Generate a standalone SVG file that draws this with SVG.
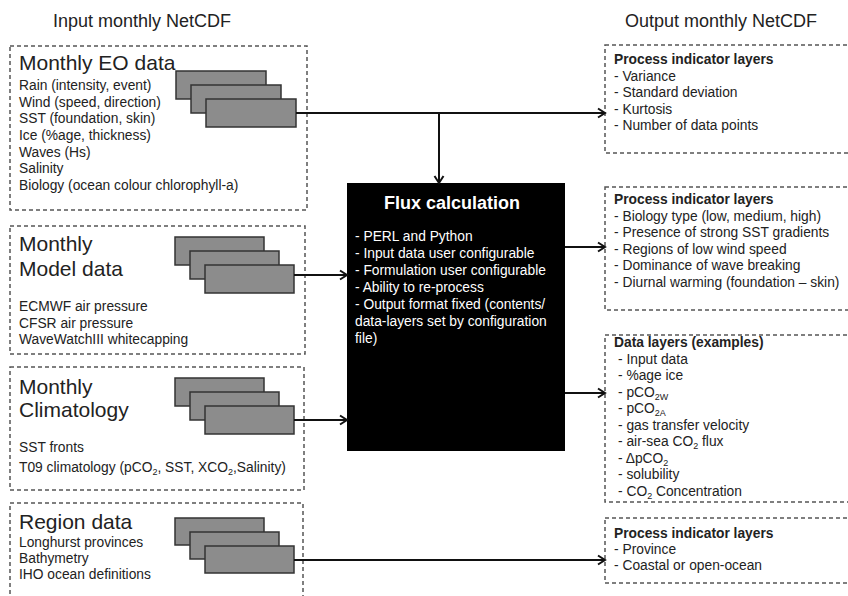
<svg xmlns="http://www.w3.org/2000/svg" width="848" height="596" viewBox="0 0 848 596">
<defs>
<style>
.t{font-family:"Liberation Sans",Arial,sans-serif;fill:#222}
.h{font-size:18px}
.big{font-size:21px}
.s{font-size:13.8px}
.b{font-weight:bold}
.dash{fill:none;stroke:#555;stroke-width:1.5;stroke-dasharray:4 3}
.card{fill:#8c8c8c;stroke:#333;stroke-width:1.5}
.con{fill:none;stroke:#111;stroke-width:2}
.w{fill:#fff}
</style>
<marker id="arr" markerUnits="userSpaceOnUse" markerWidth="12" markerHeight="12" refX="9" refY="6" orient="auto">
<path d="M2,1.5 L9,6 L2,10.5" fill="none" stroke="#111" stroke-width="2"/>
</marker>
</defs>
<rect width="848" height="596" fill="#fff"/>

<text class="t h" x="142" y="27" text-anchor="middle">Input monthly NetCDF</text>
<text class="t h" x="721" y="27" text-anchor="middle">Output monthly NetCDF</text>

<g id="eo">
<rect class="dash" x="10" y="46" width="297" height="164"/>
<text class="t big" x="19" y="70">Monthly EO data</text>
<text class="t s" x="19" y="90">Rain (intensity, event)</text>
<text class="t s" x="19" y="106.7">Wind (speed, direction)</text>
<text class="t s" x="19" y="123.3">SST (foundation, skin)</text>
<text class="t s" x="19" y="140">Ice (%age, thickness)</text>
<text class="t s" x="19" y="156.7">Waves (Hs)</text>
<text class="t s" x="19" y="173.3">Salinity</text>
<text class="t s" x="19" y="190">Biology (ocean colour chlorophyll-a)</text>
<rect class="card" x="176" y="71" width="90" height="28"/>
<rect class="card" x="191" y="85" width="90" height="28"/>
<rect class="card" x="206" y="99" width="90" height="28"/>
</g>

<g id="model">
<rect class="dash" x="10" y="226" width="295" height="128"/>
<text class="t big" x="19" y="251">Monthly</text>
<text class="t big" x="19" y="275.5">Model data</text>
<text class="t s" x="19" y="311">ECMWF air pressure</text>
<text class="t s" x="19" y="327.5">CFSR air pressure</text>
<text class="t s" x="19" y="344">WaveWatchIII whitecapping</text>
<rect class="card" x="175" y="237" width="89" height="28"/>
<rect class="card" x="190" y="251" width="89" height="28"/>
<rect class="card" x="205" y="265" width="89" height="28"/>
</g>

<g id="climatology">
<rect class="dash" x="10" y="367" width="294" height="123"/>
<text class="t big" x="19" y="394">Monthly</text>
<text class="t big" x="19" y="417">Climatology</text>
<text class="t s" x="19" y="452">SST fronts</text>
<text class="t s" x="19" y="472">T09 climatology (pCO<tspan font-size="9" dy="3">2</tspan><tspan dy="-3">, SST, XCO</tspan><tspan font-size="9" dy="3">2</tspan><tspan dy="-3">,Salinity)</tspan></text>
<rect class="card" x="175" y="378" width="89" height="28"/>
<rect class="card" x="190" y="392" width="89" height="28"/>
<rect class="card" x="205" y="406" width="89" height="28"/>
</g>

<g id="region">
<rect class="dash" x="10" y="503" width="293" height="120"/>
<text class="t big" x="19" y="529">Region data</text>
<text class="t s" x="19" y="547">Longhurst provinces</text>
<text class="t s" x="19" y="563">Bathymetry</text>
<text class="t s" x="19" y="579">IHO ocean definitions</text>
<rect class="card" x="175" y="518" width="89" height="27"/>
<rect class="card" x="190" y="532" width="89" height="27"/>
<rect class="card" x="205" y="546" width="89" height="27"/>
</g>

<g id="flux">
<rect x="347" y="183" width="218" height="268" fill="#000"/>
<text class="t b w" x="452" y="209" font-size="18" text-anchor="middle">Flux calculation</text>
<text class="t w" x="355" y="241" font-size="13.8">- PERL and Python</text>
<text class="t w" x="355" y="258" font-size="13.8">- Input data user configurable</text>
<text class="t w" x="355" y="275" font-size="13.8">- Formulation user configurable</text>
<text class="t w" x="355" y="292" font-size="13.8">- Ability to re-process</text>
<text class="t w" x="355" y="309" font-size="13.8">- Output format fixed (contents/</text>
<text class="t w" x="355" y="326" font-size="13.8">data-layers set by configuration</text>
<text class="t w" x="355" y="343" font-size="13.8">file)</text>
</g>

<g id="out1">
<rect class="dash" x="605" y="45" width="260" height="108"/>
<text class="t s b" x="614" y="64">Process indicator layers</text>
<text class="t s" x="614" y="80.5">- Variance</text>
<text class="t s" x="614" y="97">- Standard deviation</text>
<text class="t s" x="614" y="113.5">- Kurtosis</text>
<text class="t s" x="614" y="130">- Number of data points</text>
</g>

<g id="out2">
<rect class="dash" x="605" y="187" width="260" height="123"/>
<text class="t s b" x="614" y="204">Process indicator layers</text>
<text class="t s" x="614" y="220.5">- Biology type (low, medium, high)</text>
<text class="t s" x="614" y="237">- Presence of strong SST gradients</text>
<text class="t s" x="614" y="253.5">- Regions of low wind speed</text>
<text class="t s" x="614" y="270">- Dominance of wave breaking</text>
<text class="t s" x="614" y="286.5">- Diurnal warming (foundation – skin)</text>
</g>

<g id="out3">
<rect class="dash" x="605" y="335" width="260" height="167"/>
<text class="t s b" x="614" y="347">Data layers (examples)</text>
<text class="t s" x="618" y="363.5">- Input data</text>
<text class="t s" x="618" y="380">- %age ice</text>
<text class="t s" x="618" y="396.5">- pCO<tspan font-size="9" dy="3">2W</tspan></text>
<text class="t s" x="618" y="413">- pCO<tspan font-size="9" dy="3">2A</tspan></text>
<text class="t s" x="618" y="429.5">- gas transfer velocity</text>
<text class="t s" x="618" y="446">- air-sea CO<tspan font-size="9" dy="3">2</tspan><tspan dy="-3"> flux</tspan></text>
<text class="t s" x="618" y="462.5">- ΔpCO<tspan font-size="9" dy="3">2</tspan></text>
<text class="t s" x="618" y="479">- solubility</text>
<text class="t s" x="618" y="495.5">- CO<tspan font-size="9" dy="3">2</tspan><tspan dy="-3"> Concentration</tspan></text>
</g>

<g id="out4">
<rect class="dash" x="605" y="518" width="260" height="65"/>
<text class="t s b" x="614" y="538">Process indicator layers</text>
<text class="t s" x="614" y="554">- Province</text>
<text class="t s" x="614" y="570">- Coastal or open-ocean</text>
</g>

<g id="connectors">
<path class="con" d="M296,113 H605" marker-end="url(#arr)"/>
<path class="con" d="M439,113 V183" marker-end="url(#arr)"/>
<path class="con" d="M294,275 H347" marker-end="url(#arr)"/>
<path class="con" d="M294,420 H347" marker-end="url(#arr)"/>
<path class="con" d="M294,560 H605" marker-end="url(#arr)"/>
<path class="con" d="M565,247 H605" marker-end="url(#arr)"/>
<path class="con" d="M565,393 H605" marker-end="url(#arr)"/>
</g>
</svg>
